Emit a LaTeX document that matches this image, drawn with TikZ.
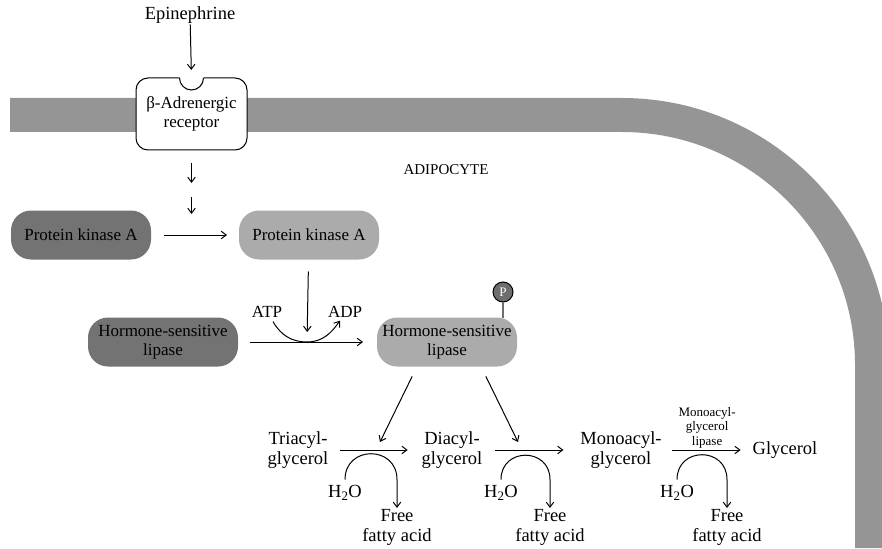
\documentclass[tikz,border=0pt]{standalone}
\usepackage{fontspec}
\setmainfont{Liberation Serif}
\usepackage{xcolor}
\definecolor{membrane}{HTML}{959595}
\definecolor{darkbox}{HTML}{737373}
\definecolor{lightbox}{HTML}{ABABAB}
\definecolor{phos}{HTML}{6E6E6E}
\usepackage{tikz}
\usetikzlibrary{positioning}
\usetikzlibrary{arrows.meta}

\tikzset{
  box/.style={rounded corners=20pt,minimum width=140pt,minimum height=49pt,font=\fontsize{17}{19}\selectfont},
  inactive/.style={box,fill=darkbox},
  active/.style={box,fill=lightbox},
  small/.style={font=\fontsize{17}{19}\selectfont}
}

\begin{document}
\begin{tikzpicture}[x=1pt,y=1pt,>={Straight Barb[length=5pt,width=7.5pt]},line width=1pt,every node/.style={inner sep=1,outer sep=0,align=center,font=\fontsize{18.5}{20}\selectfont}]

\useasboundingbox (0,0) rectangle (882,-548);
% cell membrane
\draw[membrane,line width=34pt] (10,-115) -- (622,-115) arc(90:0:250) -- (872,-548);

\node (0) at (190,-15) {Epinephrine};
\node[draw,fill=white,rounded corners=12pt,minimum width=111pt,minimum height=72pt,small] (1) at (191.5,-114) {β-Adrenergic\\receptor};
% binding notch
\fill[white] ([xshift=-12pt]1.north) -- ++(0,2) -- ++(24,0) -- ++(0,-2) arc(0:-180:12) -- cycle;
\draw ([xshift=-12pt]1.north) arc(180:360:12);
\coordinate (1a) at (191.5,-190);
\coordinate (1b) at (191.5,-214);
\node[font=\fontsize{15}{17}\selectfont] (10) at (446,-170) {ADIPOCYTE};

\node[inactive] (2) at (81,-235) {Protein kinase A};
\node[active] (3) [right=88pt of 2] {Protein kinase A};
\node[inactive,minimum width=150pt] (4) at (163,-342) {Hormone-sensitive\\lipase};
\node[active] (5) at (447,-342) {Hormone-sensitive\\lipase};
\node[small] (4a) at (267,-312) {ATP};
\node[small] (4b) at (345,-312) {ADP};
\coordinate (k) at (307,-342);
\node[circle,draw,fill=phos,minimum size=20pt,inner sep=0,text=white,font=\fontsize{13}{13}\selectfont] (5p) at (503,-292) {P};
\draw[phos,line width=1.6pt] (5p) -- (5p |- 5.north);

\path[->]
        (0) edge[shorten >=8pt] (1.north)
        (1) edge[shorten <=13pt,shorten >=7pt] (1a)
        (1a) edge[shorten <=7pt] (1b)
        (2) edge[shorten <=13pt,shorten >=12pt] (3)
        (3) edge[shorten <=12pt,shorten >=10pt] (k)
        (4) edge[shorten <=12pt,shorten >=14pt] (5);
\draw[->] ([xshift=6pt,yshift=-3pt]4a.south) to[out=-60,in=180] (k) to[out=0,in=-125] ([xshift=-5pt,yshift=-2pt]4b.south);

\coordinate (5a) at (380,-442);
\coordinate (5b) at (518,-442);
\draw[->,shorten <=11pt] ([xshift=-30pt]5.south) -- (5a);
\draw[->,shorten <=11pt] ([xshift=34pt]5.south) -- (5b);

\node (6) at (298,-450) {Triacyl-\\glycerol};
\node (7) at (452,-450) {Diacyl-\\glycerol};
\node (8) at (621,-450) {Monoacyl-\\glycerol};
\node (9) at (785,-450) {Glycerol};
\node (6a) at (345,-493) {H\textsubscript{2}O};
\node (7a) at (501,-493) {H\textsubscript{2}O};
\node (8a) at (677,-493) {H\textsubscript{2}O};
\node (6b) at (397,-527) {Free\\fatty acid};
\node (7b) at (550,-527) {Free\\fatty acid};
\node (8b) at (727,-527) {Free\\fatty acid};

\path[->]
        (6) edge[shorten <=11pt,shorten >=13pt] (7)
        (7) edge[shorten <=12pt,shorten >=16pt] (8);
\draw[->,shorten <=9pt,shorten >=11pt] (8) -- node[above=1pt,font=\fontsize{13}{14.5}\selectfont] {Monoacyl-\\glycerol\\lipase} (9);

\draw[->] ([yshift=5pt]6a.north) to[out=90,in=90,looseness=1.7] ([yshift=5pt]6a.north -| 6b) -- (6b.north);
\draw[->] ([yshift=5pt]7a.north) to[out=90,in=90,looseness=1.7] ([yshift=5pt]7a.north -| 7b) -- (7b.north);
\draw[->] ([yshift=5pt]8a.north) to[out=90,in=90,looseness=1.7] ([yshift=5pt]8a.north -| 8b) -- (8b.north);
\end{tikzpicture}
\end{document}
